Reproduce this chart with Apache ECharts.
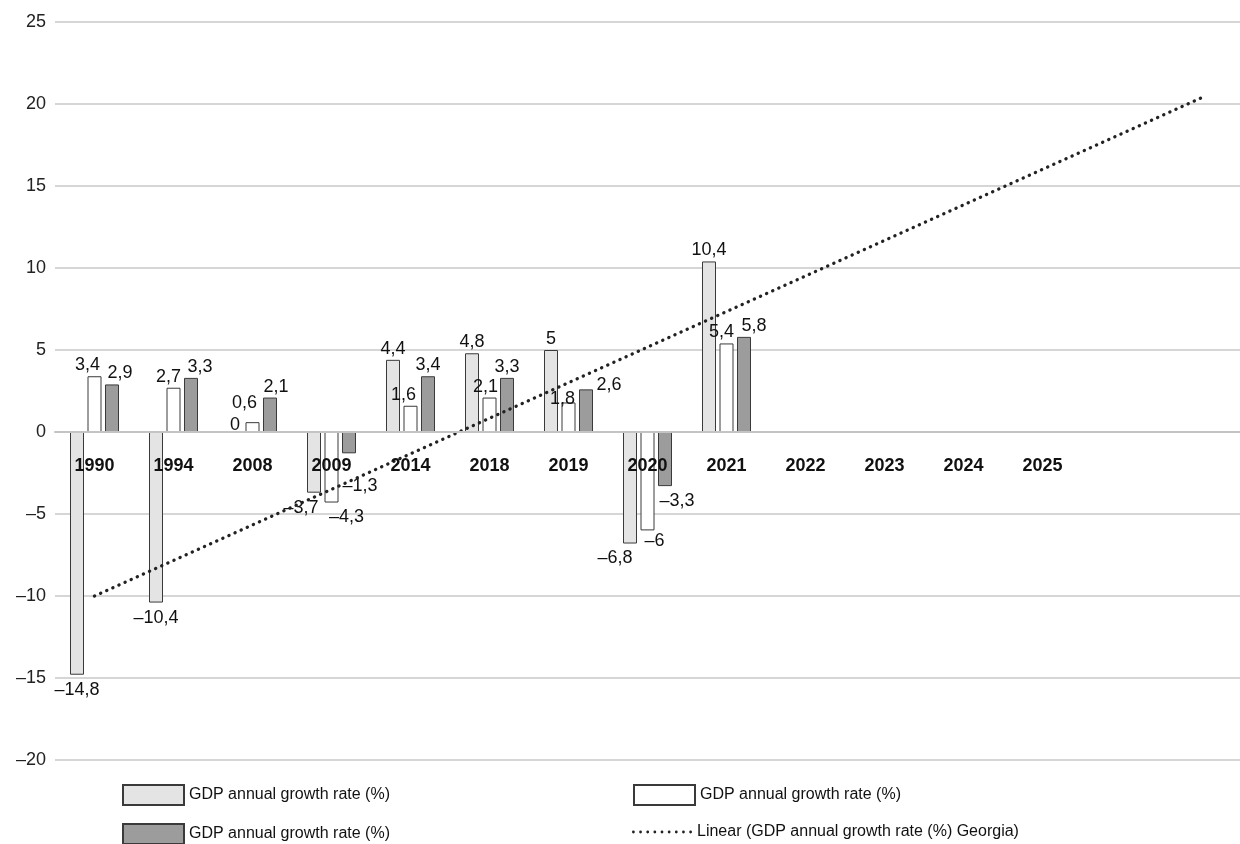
<!DOCTYPE html>
<html>
<head>
<meta charset="utf-8">
<script src="https://cdn.jsdelivr.net/npm/echarts@6/dist/echarts.min.js"></script>
<style>
  html, body { margin: 0; padding: 0; background: #fff; }
  #chart { width: 1240px; height: 844px; }
</style>
</head>
<body>
<div id="chart"></div>
<script>
// Years on the category axis (the last two slots are unlabeled and carry the trend line's end)
const categories = ['1990', '1994', '2008', '2009', '2014', '2018', '2019', '2020', '2021', '2022', '2023', '2024', '2025', ' ', '  '];

// GDP annual growth rate (%), three series
const growthLight = [-14.8, -10.4, 0, -3.7, 4.4, 4.8, 5, -6.8, 10.4];
const growthWhite = [3.4, 2.7, 0.6, -4.3, 1.6, 2.1, 1.8, -6, 5.4];
const growthDark  = [2.9, 3.3, 2.1, -1.3, 3.4, 3.3, 2.6, -3.3, 5.8];

// Linear trend: value at the first and at the last category slot
const trendFirst = -10;
const trendLast = 20.35;

// Y-axis ticks
const yTicks = [-20, -15, -10, -5, 0, 5, 10, 15, 20, 25];

const seriesText = 'GDP annual growth rate (%)';
const trendText = 'Linear (GDP annual growth rate (%) Georgia)';

const FONT = 'Liberation Sans, Arial, sans-serif';
const fmt = v => String(v).replace('.', ',').replace('-', '\u2013');

// Plot area
const GRID = { left: 55, right: 0, top: 22, bottom: 84 };
const CHART_H = 844;

// Small nudges for data labels that sit beside crowded neighbours: [dx, dy]
const labelNudge = {
  light: { 2: [0, 5], 3: [-13, 0], 7: [-15, 0] },
  white: { 0: [-7, 0], 1: [-5, 0], 2: [-8, -8], 3: [15, 0], 4: [-7, 0], 5: [-4, 0], 6: [-6, 8], 7: [7, -4], 8: [-5, 0] },
  dark:  { 0: [8, 0], 1: [9, 0], 2: [6, 0], 3: [11, 18], 6: [23, 7], 7: [12, 0], 8: [10, 0] }
};

function barData(values, key) {
  return values.map((v, i) => {
    const n = labelNudge[key][i] || [0, 0];
    return {
      value: v,
      label: {
        position: v < 0 ? 'bottom' : 'top',
        distance: v < 0 ? 6 : 2,
        offset: n
      }
    };
  });
}

const trendData = categories.map((c, i) => i === 0 ? trendFirst : (i === categories.length - 1 ? trendLast : null));

function barSeries(name, values, key, fill) {
  return {
    name: name,
    type: 'bar',
    barWidth: 14,
    barGap: '25%',
    data: barData(values, key),
    itemStyle: { color: fill, borderColor: '#3a3a3a', borderWidth: 1 },
    label: {
      show: true,
      color: '#111',
      fontFamily: FONT,
      fontSize: 18,
      formatter: p => fmt(p.value)
    },
    z: 2
  };
}

// Dotted legend key for the trend line: a row of small round dots
function dottedIcon(count, r, width) {
  const step = (width - 2 * r) / (count - 1);
  let d = '';
  for (let k = 0; k < count; k++) {
    const cx = r + k * step;
    d += 'M' + (cx - r) + ',' + r + 'a' + r + ',' + r + ' 0 1,0 ' + (2 * r) + ',0' +
         'a' + r + ',' + r + ' 0 1,0 ' + (-2 * r) + ',0Z';
  }
  return 'path://' + d;
}

const legendNames = {
  'Growth A': seriesText,
  'Growth B': seriesText,
  'Growth C': seriesText
};
legendNames[trendText] = trendText;

function legendAt(name, left, top, icon, w, h) {
  return {
    data: [{ name: name, icon: icon }],
    left: left,
    top: top,
    itemWidth: w,
    itemHeight: h,
    itemGap: 0,
    selectedMode: false,
    textStyle: { fontFamily: FONT, fontSize: 16, color: '#111' },
    formatter: n => legendNames[n],
    padding: 0
  };
}

// Place the category axis on the zero line of the value axis
const yMin = yTicks[0];
const yMax = yTicks[yTicks.length - 1];
const plotH = CHART_H - GRID.top - GRID.bottom;
const zeroShift = plotH * (0 - yMin) / (yMax - yMin);

const chart = echarts.init(document.getElementById('chart'), null, { renderer: 'canvas' });

chart.setOption({
  animation: false,
  backgroundColor: '#ffffff',
  grid: { left: GRID.left, right: GRID.right, top: GRID.top, bottom: GRID.bottom, containLabel: false },
  legend: [
    legendAt('Growth A', 122, 784, 'rect', 61, 20),
    legendAt('Growth B', 633, 784, 'rect', 61, 20),
    legendAt('Growth C', 122, 823, 'rect', 61, 20),
    legendAt(trendText, 632, 824, dottedIcon(9, 1.4, 60), 60, 2.8)
  ],
  xAxis: {
    type: 'category',
    data: categories,
    position: 'bottom',
    offset: -zeroShift,
    z: 10,
    axisTick: { show: false },
    axisLine: { show: true, onZero: false, lineStyle: { color: '#c4c4c4', width: 2 } },
    axisLabel: {
      margin: 25,
      interval: 0,
      color: '#111',
      fontFamily: FONT,
      fontSize: 18,
      fontWeight: 'bold'
    }
  },
  yAxis: {
    type: 'value',
    min: yMin,
    max: yMax,
    interval: 5,
    axisLine: { show: false },
    axisTick: { show: false },
    splitLine: { lineStyle: { color: '#c8c8c8', width: 1.5 } },
    axisLabel: {
      margin: 9,
      color: '#222',
      fontFamily: FONT,
      fontSize: 18,
      formatter: v => fmt(v)
    }
  },
  series: [
    barSeries('Growth A', growthLight, 'light', '#e4e4e4'),
    barSeries('Growth B', growthWhite, 'white', '#ffffff'),
    barSeries('Growth C', growthDark, 'dark', '#9c9c9c'),
    {
      name: trendText,
      type: 'line',
      data: trendData,
      connectNulls: true,
      symbol: 'none',
      color: '#222',
      lineStyle: { color: '#222', width: 3.4, type: [0.1, 6.6], cap: 'round' },
      z: 5
    }
  ]
});
</script>
</body>
</html>
